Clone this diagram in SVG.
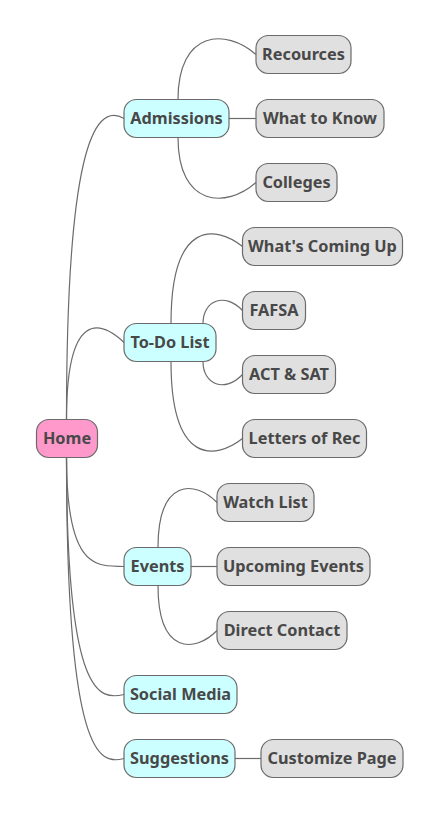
<svg xmlns="http://www.w3.org/2000/svg" width="440" height="814" viewBox="0 0 440 814">
<style>
rect{stroke:#6b6b6b;stroke-width:1.2}
.r{fill:#ff99cc}.c{fill:#ccffff}.g{fill:#e0e0e0}
text{font-family:"Noto Sans","Open Sans","Liberation Sans",sans-serif;font-weight:bold;font-size:16.3px;fill:#484848;text-anchor:middle}
#connectors path{fill:none;stroke:#6b6b6b;stroke-width:1.2}
</style>
<rect width="440" height="814" fill="#fff" style="stroke:none"/>
<g id="connectors">
<path d="M66.5 419.5 C66.5 160 92 100 124 118.5"/>
<path d="M66.5 419.5 C66.5 310 100 320 124 342.5"/>
<path d="M66.5 457.5 C66.5 575 100 565 124 566.5"/>
<path d="M66.5 457.5 C66.5 700 100 700 124 694.5"/>
<path d="M66.5 457.5 C66.5 760 100 765 124 758.5"/>
<path d="M178 99.5 C178 30 226 28 256 54.5"/>
<path d="M229 118.5 L256 118.5"/>
<path d="M178 137.5 C178 207 226 209 256 182.5"/>
<path d="M171 323.5 C171 220 215 225 242.5 246.5"/>
<path d="M203 323.5 C203 300 225 292 242.5 310.5"/>
<path d="M203 361.5 C203 385 225 393 242.5 374.5"/>
<path d="M171 361.5 C171 465 215 460 242.5 438.5"/>
<path d="M158 547.5 C158 478 195 480 217 502.5"/>
<path d="M191 566.5 L217 566.5"/>
<path d="M158 585.5 C158 655 195 653 217 630.5"/>
<path d="M235 758.5 L261 758.5"/>
</g>
<g id="home"><rect class="r" x="36.5" y="419.5" width="61" height="38" rx="12.5"/><text x="67" y="444">Home</text></g>
<g id="admissions"><rect class="c" x="124" y="99.5" width="105" height="38" rx="12.5"/><text x="176.5" y="124">Admissions</text></g>
<g id="recources"><rect class="g" x="256" y="35.5" width="95" height="38" rx="12.5"/><text x="303.5" y="60">Recources</text></g>
<g id="what-to-know"><rect class="g" x="256" y="99.5" width="128" height="38" rx="12.5"/><text x="320" y="124">What to Know</text></g>
<g id="colleges"><rect class="g" x="256" y="163.5" width="81" height="38" rx="12.5"/><text x="296.5" y="188">Colleges</text></g>
<g id="todo"><rect class="c" x="124" y="323.5" width="92" height="38" rx="12.5"/><text x="170" y="348">To-Do List</text></g>
<g id="whats-coming-up"><rect class="g" x="242.5" y="227.5" width="160" height="38" rx="12.5"/><text x="322.5" y="252">What's Coming Up</text></g>
<g id="fafsa"><rect class="g" x="242.5" y="291.5" width="63" height="38" rx="12.5"/><text x="274" y="316">FAFSA</text></g>
<g id="act-sat"><rect class="g" x="242.5" y="355.5" width="93" height="38" rx="12.5"/><text x="289" y="380">ACT &amp; SAT</text></g>
<g id="letters"><rect class="g" x="242.5" y="419.5" width="124" height="38" rx="12.5"/><text x="304.5" y="444">Letters of Rec</text></g>
<g id="events"><rect class="c" x="124" y="547.5" width="67" height="38" rx="12.5"/><text x="157.5" y="572">Events</text></g>
<g id="watch-list"><rect class="g" x="217" y="483.5" width="97" height="38" rx="12.5"/><text x="265.5" y="508">Watch List</text></g>
<g id="upcoming-events"><rect class="g" x="217" y="547.5" width="153" height="38" rx="12.5"/><text x="293.5" y="572">Upcoming Events</text></g>
<g id="direct-contact"><rect class="g" x="217" y="611.5" width="130" height="38" rx="12.5"/><text x="282" y="636">Direct Contact</text></g>
<g id="social-media"><rect class="c" x="124" y="675.5" width="113" height="38" rx="12.5"/><text x="180.5" y="700">Social Media</text></g>
<g id="suggestions"><rect class="c" x="124" y="739.5" width="111" height="38" rx="12.5"/><text x="179.5" y="764">Suggestions</text></g>
<g id="customize-page"><rect class="g" x="261" y="739.5" width="142" height="38" rx="12.5"/><text x="332" y="764">Customize Page</text></g>
</svg>
